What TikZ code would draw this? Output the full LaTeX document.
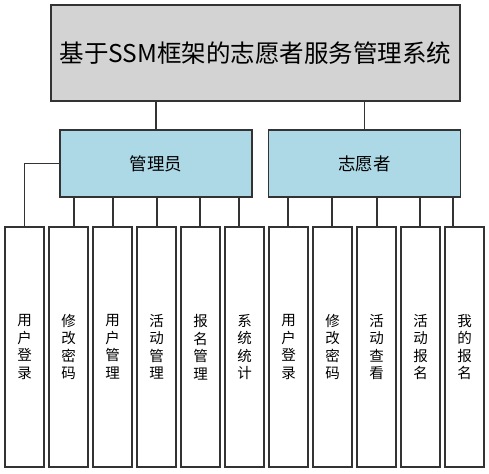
\documentclass[tikz,border=0pt]{standalone}
\usepackage{fontspec}
\setmainfont{Noto Sans CJK SC}
\definecolor{topgray}{HTML}{D3D3D3}
\definecolor{roleblue}{HTML}{ADD8E6}

\begin{document}
\begin{tikzpicture}[x=1pt, y=-1pt,
        box/.style={draw=black!80, line width=1.2pt, inner sep=0pt, align=center},
        sysbox/.style={box, fill=topgray, minimum width=409pt, minimum height=96pt, font=\fontsize{24.5}{28}\selectfont},
        rolebox/.style={box, fill=roleblue, minimum width=192pt, minimum height=67pt, font=\fontsize{17.5}{20}\selectfont},
        leafbox/.style={box, fill=white, minimum width=39pt, minimum height=240pt, font=\fontsize{14.5}{17.5}\selectfont},
        link/.style={draw=black!80, line width=1.2pt}]
              \useasboundingbox (0,0) rectangle (489,473);
              % top and roles
              \node[sysbox] (sys) at (255.5,53) {基于SSM框架的志愿者服务管理系统};
              \node[rolebox] (admin) at (156,163.5) {管理员};
              \node[rolebox] (vol) at (364.5,163.5) {志愿者};
              \draw[link] (sys.south -| admin.north) -- (admin.north);
              \draw[link] (sys.south -| vol.north) -- (vol.north);
              % leaves
              \foreach \t [count=\i] in {用\\户\\登\\录, 修\\改\\密\\码, 用\\户\\管\\理, 活\\动\\管\\理,
                    报\\名\\管\\理, 系\\统\\统\\计, 用\\户\\登\\录, 修\\改\\密\\码,
                    活\\动\\查\\看, 活\\动\\报\\名, 我\\的\\报\\名}
                    \node[leafbox] (leaf\i) at ({24.5+44*(\i-1)},347) {\t};
              \draw[link] (admin.west) -- (admin.west -| leaf1.north) -- (leaf1.north);
              \foreach \x/\i in {74/2, 113/3, 157/4, 200/5, 239/6}
                    \draw[link] (admin.south -| \x,0) -- (leaf\i.north -| \x,0);
              \foreach \x/\i in {288/7, 332/8, 377/9, 420/10, 453/11}
                    \draw[link] (vol.south -| \x,0) -- (leaf\i.north -| \x,0);
        \end{tikzpicture}
\end{document}
